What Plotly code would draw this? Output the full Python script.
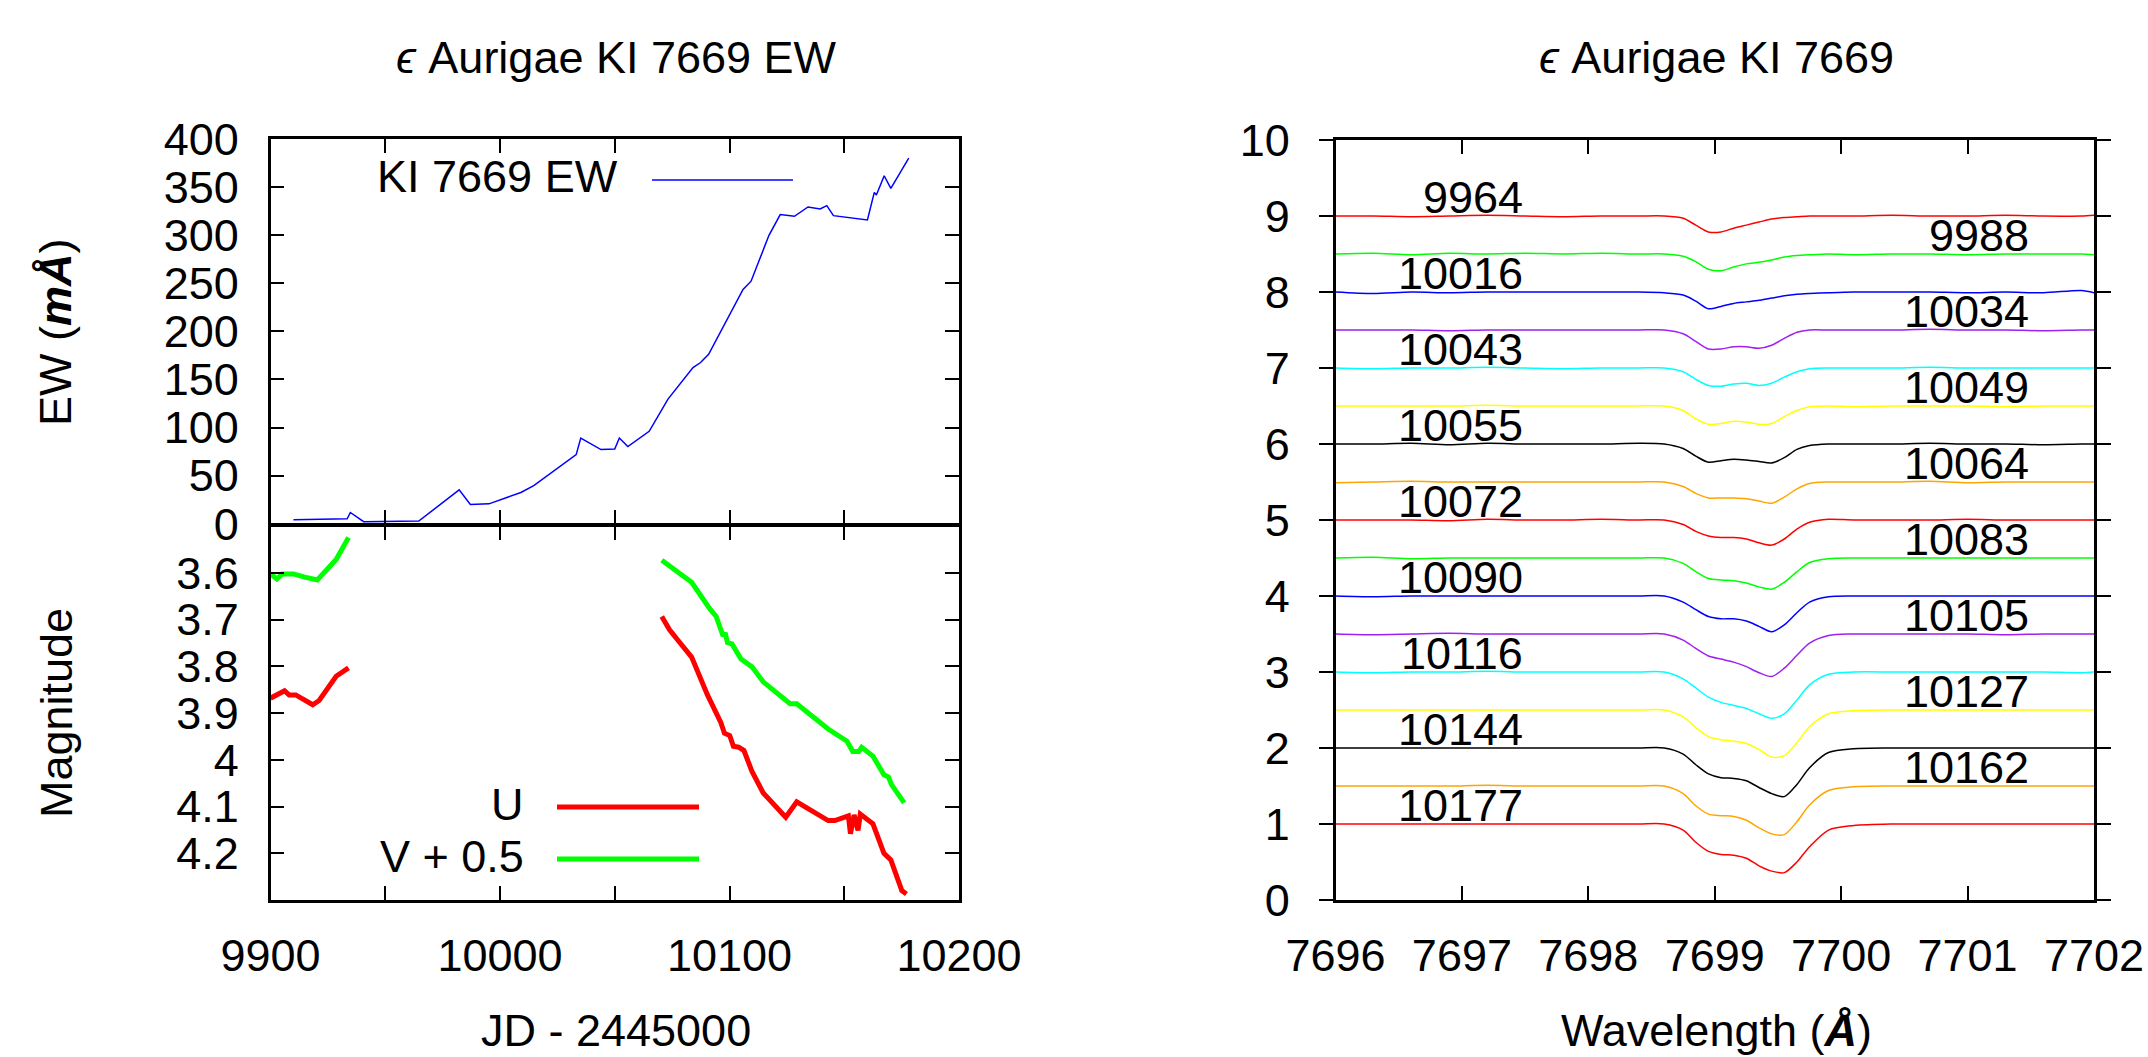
import plotly.graph_objects as go

W, H = 2148, 1057
FONT = "Liberation Sans, Arial, sans-serif"
FS = 45

# ---------------- data: left panel ----------------
JD_EW = [9910.0, 9933.4, 9934.8, 9940.6, 9964.6, 9982.2, 9987.1, 9995.2, 10009.1, 10014.7,
         10033.2, 10035.2, 10044.0, 10050.0, 10052.0, 10055.7, 10065.0, 10073.2, 10084.1,
         10087.4, 10090.9, 10105.9, 10109.4, 10117.2, 10122.1, 10128.3, 10134.2, 10139.5,
         10142.4, 10145.3, 10160.1, 10163.1, 10164.0, 10167.4, 10170.3, 10178.1]
EW = [4.1, 5.2, 11.7, 2.1, 2.8, 35.2, 20.0, 20.7, 32.5, 39.7,
      71.9, 89.1, 77.1, 77.7, 89.1, 80.2, 96.1, 129.6, 162.4,
      167.6, 176.2, 243.6, 252.2, 299.9, 321.4, 319.6, 329.3, 327.2,
      330.7, 320.3, 315.8, 344.5, 341.7, 361.8, 348.7, 380.1]

JD_U = [9900.0, 9903.2, 9906.1, 9908.1, 9911.0, 9918.4, 9921.2, 9928.6, 9934.0, None,
        10070.5, 10073.8, 10077.7, 10083.5, 10090.4, 10096.2, 10097.8, 10100.1, 10101.7,
        10104.0, 10106.3, 10109.8, 10114.7, 10124.5, 10129.3, 10143.0, 10145.9, 10151.8,
        10152.7, 10154.3, 10156.0, 10157.0, 10162.5, 10164.4, 10167.3, 10170.3, 10175.1, 10177.1]
U_MAG = [3.868, 3.859, 3.852, 3.861, 3.861, 3.882, 3.873, 3.821, 3.803, None,
         3.693, 3.721, 3.745, 3.780, 3.861, 3.920, 3.943, 3.948, 3.971,
         3.973, 3.980, 4.025, 4.071, 4.123, 4.090, 4.130, 4.130, 4.120,
         4.158, 4.118, 4.151, 4.116, 4.137, 4.162, 4.200, 4.214, 4.280, 4.287]

JD_V = [9900.0, 9902.8, 9905.1, 9910.0, 9914.9, 9920.4, 9928.6, 9934.0, None,
        10070.5, 10074.8, 10083.5, 10091.3, 10094.2, 10097.2, 10098.1, 10099.1, 10101.1,
        10105.0, 10109.8, 10114.7, 10126.4, 10129.3, 10143.0, 10151.2, 10153.7, 10156.3,
        10157.6, 10162.5, 10167.3, 10169.3, 10170.6, 10176.1]
V_PLUS_05 = [3.602, 3.613, 3.602, 3.602, 3.609, 3.615, 3.571, 3.524, None,
             3.573, 3.588, 3.620, 3.676, 3.693, 3.735, 3.728, 3.749, 3.752,
             3.784, 3.801, 3.833, 3.880, 3.880, 3.934, 3.960, 3.982, 3.982,
             3.973, 3.992, 4.032, 4.037, 4.053, 4.092]

JD_TICKS = [9900, 9950, 10000, 10050, 10100, 10150, 10200]
JD_TICK_TEXT = ["9900", "", "10000", "", "10100", "", "10200"]
EW_TICKS = [0, 50, 100, 150, 200, 250, 300, 350, 400]
MAG_TICKS = [3.6, 3.7, 3.8, 3.9, 4.0, 4.1, 4.2]
MAG_TICK_TEXT = ["3.6", "3.7", "3.8", "3.9", "4", "4.1", "4.2"]

# ---------------- data: right panel ----------------
WAVE = [7696.0, 7696.3, 7696.6, 7696.9, 7697.2, 7697.5, 7697.8, 7698.1, 7698.4, 7698.6,
        7698.75, 7698.85, 7698.95, 7699.05, 7699.15, 7699.25, 7699.35, 7699.45, 7699.55,
        7699.65, 7699.75, 7699.9, 7700.1, 7700.4, 7700.7, 7701.0, 7701.3, 7701.6, 7701.9, 7702.0]

EPOCHS = ["9964", "9988", "10016", "10034", "10043", "10049", "10055", "10064", "10072",
          "10083", "10090", "10105", "10116", "10127", "10144", "10162", "10177"]
OFFSETS = [8.0, 7.5, 7.0, 6.5, 6.0, 5.5, 5.0, 4.5, 4.0, 3.5, 3.0, 2.5, 2.0, 1.5, 1.0, 0.5, 0.0]
COLORS = ["#ff0000", "#00ff00", "#0000ff", "#a020f0", "#00ffff", "#ffff00", "#000000", "#ffa500"]

FLUX = [
    [1.00, 1.00, 0.99, 1.00, 1.01, 1.00, 0.99, 1.00, 1.00, 1.00, 0.97, 0.88, 0.79, 0.79, 0.84, 0.88, 0.92, 0.96, 0.98, 0.99, 1.00, 1.00, 1.00, 1.01, 1.00, 1.00, 1.01, 1.00, 1.00, 1.01],
    [1.00, 1.01, 0.99, 1.01, 1.00, 1.01, 1.00, 1.01, 1.00, 1.00, 0.97, 0.90, 0.80, 0.78, 0.83, 0.87, 0.89, 0.92, 0.96, 0.98, 0.99, 1.00, 0.99, 1.00, 1.00, 0.99, 1.00, 1.00, 1.00, 0.99],
    [1.00, 0.98, 1.00, 0.99, 1.00, 1.00, 1.00, 1.00, 1.00, 0.99, 0.96, 0.88, 0.78, 0.81, 0.85, 0.87, 0.89, 0.92, 0.95, 0.97, 0.98, 0.99, 1.00, 1.00, 1.00, 0.99, 1.00, 0.99, 1.02, 0.99],
    [1.00, 1.00, 1.00, 0.99, 1.00, 1.00, 1.00, 1.00, 1.00, 1.00, 0.95, 0.85, 0.75, 0.75, 0.78, 0.78, 0.76, 0.80, 0.89, 0.97, 1.00, 1.00, 1.00, 1.00, 1.01, 1.00, 1.00, 0.99, 1.00, 1.00],
    [1.00, 0.99, 1.00, 1.00, 1.01, 1.00, 0.99, 1.00, 1.00, 1.00, 0.95, 0.85, 0.77, 0.76, 0.79, 0.80, 0.77, 0.80, 0.88, 0.95, 0.99, 1.00, 1.00, 1.00, 1.01, 1.00, 1.00, 1.00, 1.00, 1.00],
    [1.00, 1.00, 1.00, 1.00, 1.01, 1.00, 1.00, 1.00, 1.00, 1.00, 0.94, 0.83, 0.76, 0.77, 0.80, 0.79, 0.76, 0.77, 0.86, 0.94, 0.99, 1.00, 0.99, 1.00, 1.00, 1.00, 0.99, 1.00, 1.00, 1.00],
    [1.00, 1.00, 1.01, 0.99, 1.01, 1.00, 1.00, 1.00, 1.01, 1.00, 0.94, 0.84, 0.76, 0.78, 0.80, 0.79, 0.77, 0.75, 0.82, 0.93, 0.98, 1.00, 1.00, 1.00, 1.01, 1.00, 1.00, 0.99, 1.00, 1.00],
    [0.99, 1.00, 1.01, 1.00, 1.00, 1.00, 1.00, 1.00, 1.00, 1.00, 0.94, 0.85, 0.79, 0.79, 0.79, 0.78, 0.75, 0.72, 0.80, 0.91, 0.98, 1.00, 1.00, 1.00, 1.01, 0.99, 1.00, 1.00, 1.00, 1.00],
    [1.00, 1.00, 1.00, 0.99, 1.01, 1.00, 1.00, 1.01, 1.00, 1.00, 0.94, 0.85, 0.79, 0.77, 0.77, 0.75, 0.70, 0.67, 0.75, 0.88, 0.97, 1.01, 1.00, 1.00, 1.00, 1.01, 1.00, 1.00, 1.00, 1.00],
    [1.00, 1.01, 0.99, 1.00, 1.00, 1.00, 1.00, 1.00, 1.00, 1.00, 0.93, 0.82, 0.73, 0.71, 0.70, 0.67, 0.62, 0.59, 0.68, 0.82, 0.94, 0.99, 1.00, 1.00, 1.00, 1.00, 1.00, 1.00, 1.00, 1.00],
    [1.00, 0.99, 1.00, 1.00, 1.00, 1.00, 1.00, 1.00, 1.00, 1.00, 0.92, 0.82, 0.73, 0.70, 0.70, 0.67, 0.60, 0.53, 0.62, 0.78, 0.92, 0.99, 1.00, 1.00, 1.00, 1.00, 1.00, 1.00, 1.00, 1.00],
    [1.00, 0.99, 1.00, 1.01, 1.00, 1.00, 1.00, 1.00, 1.00, 1.00, 0.92, 0.81, 0.71, 0.67, 0.63, 0.57, 0.49, 0.44, 0.55, 0.72, 0.88, 0.98, 1.00, 1.00, 1.00, 1.00, 0.99, 1.00, 1.00, 1.00],
    [1.00, 0.99, 1.00, 1.00, 1.01, 1.00, 1.00, 1.00, 1.00, 1.00, 0.91, 0.79, 0.67, 0.60, 0.56, 0.52, 0.45, 0.39, 0.45, 0.63, 0.83, 0.97, 1.00, 1.00, 1.00, 1.00, 1.00, 1.00, 0.99, 1.00],
    [1.00, 1.00, 1.00, 1.00, 1.00, 1.00, 1.00, 1.00, 1.00, 1.00, 0.91, 0.77, 0.65, 0.61, 0.59, 0.56, 0.48, 0.38, 0.40, 0.57, 0.78, 0.95, 0.99, 1.00, 1.00, 1.00, 1.00, 1.00, 1.00, 1.00],
    [1.00, 1.00, 1.00, 1.00, 1.00, 1.00, 1.00, 1.00, 1.00, 1.00, 0.92, 0.78, 0.66, 0.61, 0.60, 0.57, 0.48, 0.40, 0.36, 0.52, 0.74, 0.94, 0.99, 1.00, 1.00, 1.00, 1.00, 1.00, 1.00, 1.00],
    [1.00, 1.00, 1.00, 1.00, 1.01, 1.00, 1.00, 1.00, 1.00, 1.00, 0.90, 0.74, 0.63, 0.61, 0.60, 0.55, 0.45, 0.37, 0.36, 0.53, 0.75, 0.94, 0.99, 1.00, 1.00, 1.00, 1.00, 1.00, 1.00, 1.00],
    [1.00, 1.00, 1.00, 1.00, 1.00, 1.00, 1.00, 1.00, 1.00, 1.00, 0.92, 0.76, 0.64, 0.60, 0.59, 0.55, 0.45, 0.38, 0.36, 0.50, 0.70, 0.92, 0.98, 1.00, 1.00, 1.00, 1.00, 1.00, 1.00, 1.00],
]

# ---------------- helpers ----------------
def px(x):
    return x / W


def py(y):
    return 1 - y / H


fig = go.Figure()

fig.add_trace(go.Scatter(x=JD_EW, y=EW, mode="lines", line=dict(color="#0000ff", width=1.5),
                         xaxis="x", yaxis="y", showlegend=False))
fig.add_trace(go.Scatter(x=JD_U, y=U_MAG, mode="lines", line=dict(color="#ff0000", width=5),
                         connectgaps=False, xaxis="x2", yaxis="y2", showlegend=False))
fig.add_trace(go.Scatter(x=JD_V, y=V_PLUS_05, mode="lines", line=dict(color="#00ff00", width=5),
                         connectgaps=False, xaxis="x2", yaxis="y2", showlegend=False))

annotations = []
for i, (ep, off, fl) in enumerate(zip(EPOCHS, OFFSETS, FLUX)):
    yv = [f + off for f in fl]
    fig.add_trace(go.Scatter(x=WAVE, y=yv, mode="lines",
                             line=dict(color=COLORS[i % len(COLORS)], width=1.5, shape="spline", smoothing=0.8),
                             xaxis="x3", yaxis="y3", showlegend=False))
    xl = 7697.5 if i % 2 == 0 else 7701.5
    annotations.append(dict(x=xl, y=off + 1.0, xref="x3", yref="y3", text=ep, showarrow=False,
                            xanchor="right", yanchor="bottom", yshift=-9,
                            font=dict(family=FONT, size=FS, color="black")))

LW = 2.5
axis_common = dict(showline=True, linecolor="black", linewidth=LW, mirror="ticks",
                   ticks="inside", ticklen=14, tickwidth=1.5, tickcolor="black",
                   showgrid=False, zeroline=False, automargin=False,
                   tickfont=dict(family=FONT, size=FS, color="black"))

LX0, LX1 = px(270.5), px(959)
RX0, RX1 = px(1335.5), px(2094)
MID = 525  # boundary between the two left panels (pixels from top)

fig.update_layout(
    width=W, height=H,
    margin=dict(l=0, r=0, t=0, b=0, autoexpand=False),
    paper_bgcolor="white", plot_bgcolor="white",
    font=dict(family=FONT, size=FS, color="black"),
    xaxis=dict(axis_common, domain=[LX0, LX1], range=[9900, 10200], anchor="y",
               tickvals=JD_TICKS, showticklabels=False),
    yaxis=dict(axis_common, domain=[py(MID - LW / 2), py(139)], range=[0, 400], anchor="x",
               tickvals=EW_TICKS, ticklabelstandoff=20),
    xaxis2=dict(axis_common, domain=[LX0, LX1], range=[9900, 10200], anchor="y2",
                tickvals=JD_TICKS, ticktext=JD_TICK_TEXT, ticklabelstandoff=14),
    yaxis2=dict(axis_common, domain=[py(900), py(MID + LW / 2)], range=[4.3, 3.5], anchor="x2",
                tickvals=MAG_TICKS, ticktext=MAG_TICK_TEXT, ticklabelstandoff=20),
    xaxis3=dict(axis_common, domain=[RX0, RX1], range=[7696, 7702], anchor="y3",
                dtick=1, tick0=7696, ticklabelstandoff=14),
    yaxis3=dict(axis_common, domain=[py(900), py(140)], range=[0, 10], anchor="x3",
                dtick=1, tick0=0, ticks="outside", ticklabelstandoff=20),
)

text_font = dict(family=FONT, size=FS, color="black")
annotations += [
    dict(x=px(616), y=py(58), xref="paper", yref="paper", text="<i>ϵ</i> Aurigae KI 7669 EW",
         showarrow=False, xanchor="center", yanchor="middle", font=text_font),
    dict(x=px(1716), y=py(58), xref="paper", yref="paper", text="<i>ϵ</i> Aurigae KI 7669",
         showarrow=False, xanchor="center", yanchor="middle", font=text_font),
    dict(x=px(616), y=py(1030), xref="paper", yref="paper", text="JD - 2445000",
         showarrow=False, xanchor="center", yanchor="middle", font=text_font),
    dict(x=px(1716), y=py(1030), xref="paper", yref="paper", text="Wavelength (<b><i>Å</i></b>)",
         showarrow=False, xanchor="center", yanchor="middle", font=text_font),
    dict(x=px(56), y=py(332), xref="paper", yref="paper", text="EW (<b><i>mÅ</i></b>)",
         showarrow=False, xanchor="center", yanchor="middle", textangle=-90, font=text_font),
    dict(x=px(56), y=py(713), xref="paper", yref="paper", text="Magnitude",
         showarrow=False, xanchor="center", yanchor="middle", textangle=-90, font=text_font),
    # legend texts
    dict(x=px(620), y=py(176), xref="paper", yref="paper", text="KI 7669 EW",
         showarrow=False, xanchor="right", yanchor="middle", font=text_font),
    dict(x=px(526), y=py(804), xref="paper", yref="paper", text="U",
         showarrow=False, xanchor="right", yanchor="middle", font=text_font),
    dict(x=px(526), y=py(856), xref="paper", yref="paper", text="V + 0.5",
         showarrow=False, xanchor="right", yanchor="middle", font=text_font),
]

shapes = [
    dict(type="line", xref="paper", yref="paper", x0=px(652), x1=px(793), y0=py(180), y1=py(180),
         line=dict(color="#0000ff", width=1.5)),
    dict(type="line", xref="paper", yref="paper", x0=px(557), x1=px(699), y0=py(807), y1=py(807),
         line=dict(color="#ff0000", width=5)),
    dict(type="line", xref="paper", yref="paper", x0=px(557), x1=px(699), y0=py(859), y1=py(859),
         line=dict(color="#00ff00", width=5)),
]

fig.update_layout(annotations=annotations, shapes=shapes)

fig.write_html("out.html")
